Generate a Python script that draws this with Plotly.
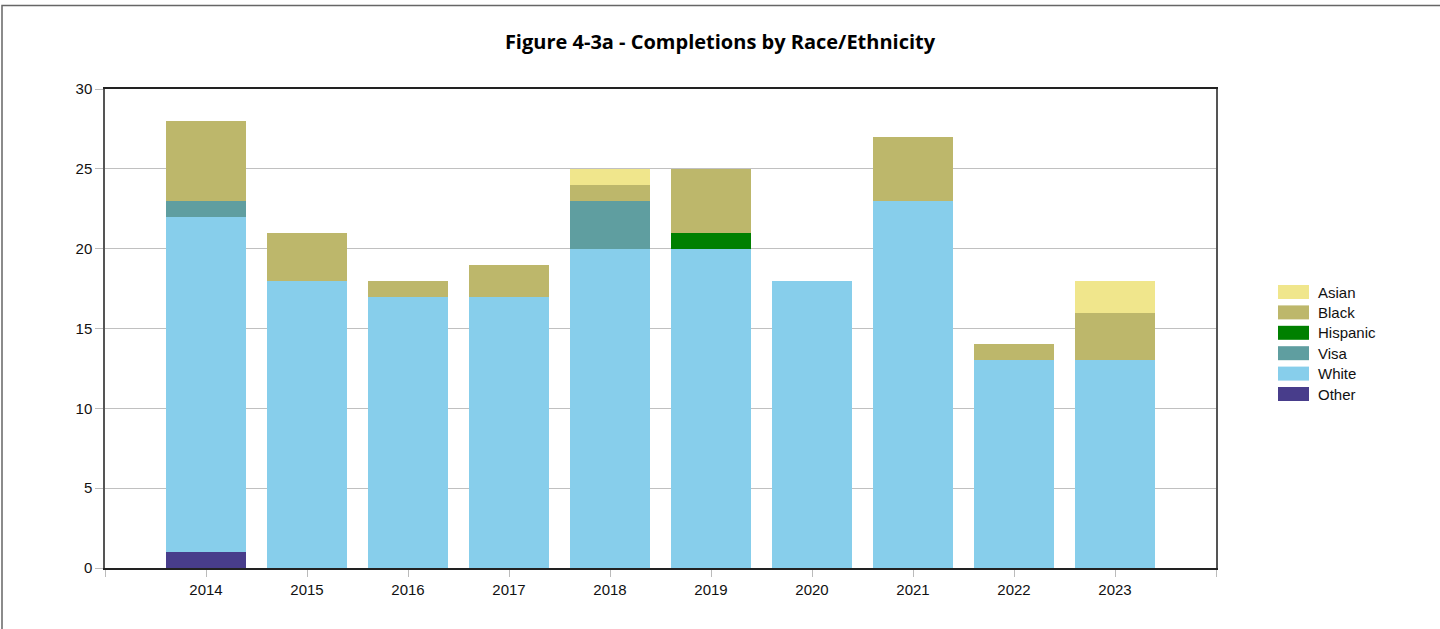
import plotly.graph_objects as go

years = [2014, 2015, 2016, 2017, 2018, 2019, 2020, 2021, 2022, 2023]
other = [1, 0, 0, 0, 0, 0, 0, 0, 0, 0]
white = [21, 18, 17, 17, 20, 20, 18, 23, 13, 13]
visa = [1, 0, 0, 0, 3, 0, 0, 0, 0, 0]
hispanic = [0, 0, 0, 0, 0, 1, 0, 0, 0, 0]
black = [5, 3, 1, 2, 1, 4, 0, 4, 1, 3]
asian = [0, 0, 0, 0, 1, 0, 0, 0, 0, 2]

series = [
    ("Other", other, "#483D8B"),
    ("White", white, "#87CEEB"),
    ("Visa", visa, "#5F9EA0"),
    ("Hispanic", hispanic, "#008000"),
    ("Black", black, "#BDB76B"),
    ("Asian", asian, "#F0E68C"),
]

fig = go.Figure()
for name, vals, color in series:
    fig.add_trace(go.Bar(x=years, y=vals, name=name, showlegend=False,
                         marker=dict(color=color, line=dict(width=0)), width=0.8))

W, H = 1440, 629
L, R, T, B = 105, 224, 89, 61
pw, ph = W - L - R, H - T - B


def px(x):
    return (x - L) / pw


def py(y):
    return (H - B - y) / ph


tickvals = list(range(2013, 2025))
ticktext = ["" if v in (2013, 2024) else str(v) for v in tickvals]

fig.update_layout(
    width=W, height=H,
    barmode="stack",
    paper_bgcolor="white", plot_bgcolor="white",
    margin=dict(l=L, r=R, t=T, b=B, autoexpand=False),
    font=dict(family="Liberation Sans, Arial, sans-serif", size=15, color="#111"),
    title=dict(text="<b>Figure 4-3a - Completions by Race/Ethnicity</b>", x=0.5, xanchor="center",
               y=1 - 42 / H, yanchor="middle", font=dict(family="Open Sans, sans-serif", size=20, color="#000")),
    xaxis=dict(range=[2013, 2024], tickvals=tickvals, ticktext=ticktext, ticks="outside",
               ticklen=7, tickcolor="#bbbbbb", showgrid=False, showline=True, linecolor="#222",
               linewidth=1.5, mirror=True, zeroline=False),
    yaxis=dict(range=[0, 30], dtick=5, ticks="outside", ticklen=8, tickcolor="#bbbbbb",
               showgrid=True, gridcolor="#c0c0c0", gridwidth=1, showline=True, linecolor="#555",
               linewidth=1.5, mirror=True, zeroline=False),
    showlegend=False,
    bargap=0.2,
)

# outer border
fig.add_shape(type="rect", xref="paper", yref="paper",
              x0=px(2), x1=px(1445), y0=py(640), y1=py(5.5),
              line=dict(color="#666", width=1.5), fillcolor="rgba(0,0,0,0)", layer="below")

# legend (top-to-bottom: reverse of stack order)
row0, step = 292, 20.4
for i, (name, vals, color) in enumerate(reversed(series)):
    cy = row0 + i * step
    fig.add_shape(type="rect", xref="paper", yref="paper",
                  x0=px(1278), x1=px(1309), y0=py(cy + 7), y1=py(cy - 7),
                  line=dict(width=0), fillcolor=color)
    fig.add_annotation(xref="paper", yref="paper", x=px(1316), y=py(cy), text=name,
                       showarrow=False, xanchor="left", yanchor="middle",
                       font=dict(size=15, color="#111"))

fig.write_html("out.html", config={"displayModeBar": False},
               post_script="document.body.style.margin='0';")
